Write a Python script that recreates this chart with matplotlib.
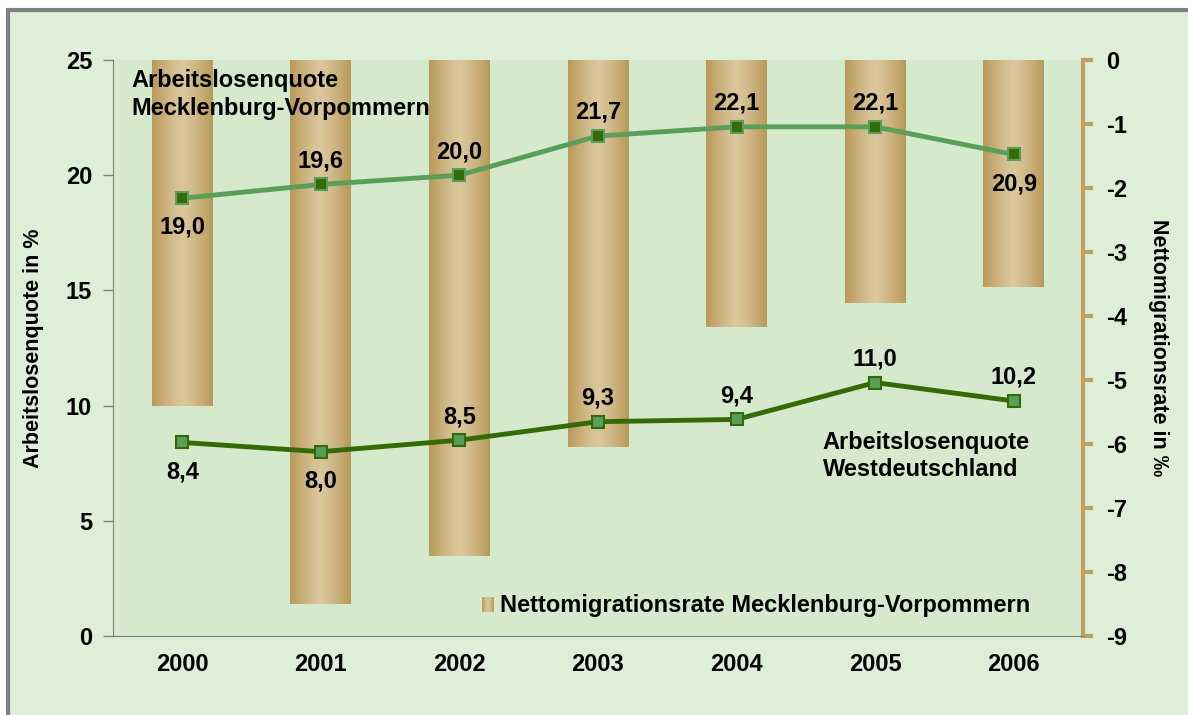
import matplotlib
matplotlib.use('Agg')
import matplotlib.pyplot as plt
from matplotlib.patches import Rectangle
import numpy as np

plt.rcParams['font.family'] = ['Liberation Sans', 'DejaVu Sans']
plt.rcParams['font.weight'] = 'bold'

###############################################################
# data
###############################################################
years = ['2000', '2001', '2002', '2003', '2004', '2005', '2006']
alq_mv = [19.0, 19.6, 20.0, 21.7, 22.1, 22.1, 20.9]
alq_west = [8.4, 8.0, 8.5, 9.3, 9.4, 11.0, 10.2]
netto_mv = [-5.4, -8.5, -7.75, -6.05, -4.17, -3.8, -3.55]

mv_label_pos = ['below', 'above', 'above', 'above', 'above', 'above', 'below']
west_label_pos = ['below', 'below', 'above', 'above', 'above', 'above', 'above']

###############################################################
# colours
###############################################################
bg_outer = '#ddefd7'
bg_plot = '#d5eacc'
bar_dark = np.array([0.72, 0.60, 0.35])
bar_light = np.array([0.86, 0.78, 0.61])
green_light = '#5a9e5a'
green_dark = '#356b06'
tan = '#c0a060'
fs = 17

###############################################################
# figure
###############################################################
fig = plt.figure(figsize=(11.88, 7.15), dpi=100, facecolor='white')
fig.patches.append(Rectangle((8 / 1188, -0.1), 1.2, 1 - 8 / 715 + 0.1 - 2 / 715,
                             transform=fig.transFigure, facecolor=bg_outer,
                             edgecolor='#808080', linewidth=3, zorder=-5))

ax2 = fig.add_axes([113 / 1188, 1 - 636 / 715, (1083 - 113) / 1188, (636 - 60) / 715])
ax2.set_facecolor(bg_plot)
ax2.yaxis.tick_right()
ax2.yaxis.set_label_position('right')
ax2.set_xticks([])
ax = fig.add_axes(ax2.get_position())
ax.patch.set_visible(False)

x = np.arange(len(years))
width = 0.44

# bars with horizontal gradient on the right axis
t = np.linspace(-1, 1, 64)
w = np.abs(t) ** 1.3
grad = (1 - w)[:, None] * bar_light + w[:, None] * bar_dark
grad = grad[None, :, :]
for xi, v in zip(x, netto_mv):
    ax2.imshow(grad, extent=(xi - width / 2, xi + width / 2, v, 0),
               aspect='auto', interpolation='bilinear', zorder=1)

ax2.set_ylim(-9, 0)
ax2.set_yticks(np.arange(-9, 1, 1))
ax2.set_yticklabels([str(v) for v in range(-9, 1)])
ax2.set_ylabel('Nettomigrationsrate in \u2030', fontsize=15.5, fontweight='bold',
               rotation=-90, labelpad=30)
ax2.tick_params(axis='y', length=7, width=3, color=tan, labelsize=fs, pad=10)
for s in ['top', 'left', 'bottom']:
    ax2.spines[s].set_visible(False)
ax2.spines['right'].set_color(tan)
ax2.spines['right'].set_linewidth(3)

# legend for bars
lx, ly = 2.2, -8.52
ax2.imshow(grad, extent=(lx - 0.04, lx + 0.04, ly - 0.11, ly + 0.11),
           aspect='auto', interpolation='bilinear', zorder=2)
ax2.text(lx + 0.09, ly, 'Nettomigrationsrate Mecklenburg-Vorpommern', fontsize=fs,
         fontweight='bold', va='center', ha='left')
ax2.set_xlim(-0.5, len(years) - 0.5)

# lines on the left axis
ax.plot(x, alq_mv, color=green_light, linewidth=3.5, marker='s', markersize=8,
        markerfacecolor=green_dark, markeredgecolor=green_light, markeredgewidth=1.5, zorder=3)
ax.plot(x, alq_west, color=green_dark, linewidth=3.5, marker='s', markersize=8,
        markerfacecolor=green_light, markeredgecolor=green_dark, markeredgewidth=1.5, zorder=3)

for xi, v, p in zip(x, alq_mv, mv_label_pos):
    off = 17 if p == 'above' else -21
    ax.annotate(f'{v:.1f}'.replace('.', ','), (xi, v), textcoords='offset points',
                xytext=(0, off), ha='center', va='center', fontsize=fs, fontweight='bold')
for xi, v, p in zip(x, alq_west, west_label_pos):
    off = 17 if p == 'above' else -21
    ax.annotate(f'{v:.1f}'.replace('.', ','), (xi, v), textcoords='offset points',
                xytext=(0, off), ha='center', va='center', fontsize=fs, fontweight='bold')

ax.text(-0.37, 24.6, 'Arbeitslosenquote\nMecklenburg-Vorpommern', fontsize=fs,
        fontweight='bold', va='top', ha='left', linespacing=1.25)
ax.text(4.62, 8.9, 'Arbeitslosenquote\nWestdeutschland', fontsize=fs,
        fontweight='bold', va='top', ha='left', linespacing=1.25)

ax.set_xlim(-0.5, len(years) - 0.5)
ax.set_ylim(0, 25)
ax.set_yticks(np.arange(0, 26, 5))
ax.set_xticks(x)
ax.set_xticklabels(years)
ax.tick_params(axis='x', length=0, labelsize=fs, pad=12)
ax.tick_params(axis='y', length=7, width=1, color='#808080', labelsize=fs, pad=8)
ax.set_ylabel('Arbeitslosenquote in %', fontsize=15.5, fontweight='bold', labelpad=16)
for s in ['top', 'right']:
    ax.spines[s].set_visible(False)
ax.spines['left'].set_color('#808080')
ax.spines['bottom'].set_color('#808080')

fig.savefig('out.png', dpi=100, facecolor=fig.get_facecolor())
